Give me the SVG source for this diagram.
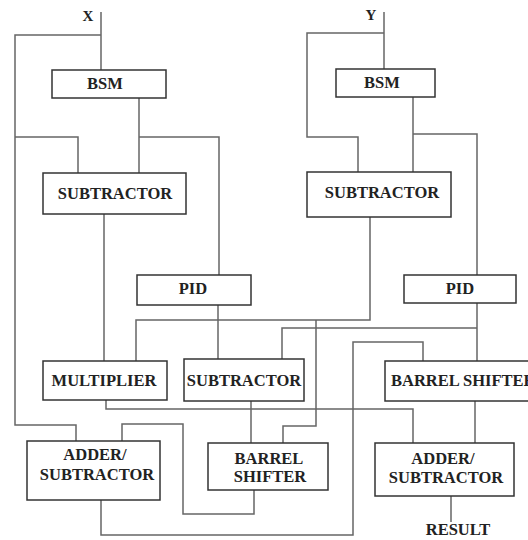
<svg xmlns="http://www.w3.org/2000/svg" width="528" height="540" viewBox="0 0 528 540">
<style>
.box{fill:#fff;stroke:#333;stroke-width:1.5}
.w{fill:none;stroke:#666;stroke-width:1.5}
.t{font-family:"Liberation Serif","Times New Roman",serif;font-weight:bold;font-size:16.5px;fill:#222;text-anchor:middle}
</style>
<rect width="528" height="540" fill="#fff"/>
<g id="connectors">
<polyline class="w" points="101,12 101,70"/>
<polyline class="w" points="101,35 15,35 15,425 76,425 76,441"/>
<polyline class="w" points="139,98 139,173"/>
<polyline class="w" points="139,137 219,137 219,275"/>
<polyline class="w" points="15,137 78,137 78,173"/>
<polyline class="w" points="104,214 104,361"/>
<polyline class="w" points="384,12 384,69"/>
<polyline class="w" points="384,33 307,33 307,137 358,137 358,172"/>
<polyline class="w" points="413,97 413,172"/>
<polyline class="w" points="413,134 477,134 477,275"/>
<polyline class="w" points="370,217 370,320 136,320 136,361"/>
<polyline class="w" points="316,320 316,426 283,426 283,443"/>
<polyline class="w" points="218,305 218,359"/>
<polyline class="w" points="477,303 477,361"/>
<polyline class="w" points="477,328 282,328 282,359"/>
<polyline class="w" points="106,400 106,409 413,409 413,443"/>
<polyline class="w" points="251,401 251,443"/>
<polyline class="w" points="475,401 475,443"/>
<polyline class="w" points="254,490 254,514 183,514 183,424 122,424 122,441"/>
<polyline class="w" points="101,500 101,535 353,535 353,342 423,342 423,361"/>
<polyline class="w" points="451,496 451,522"/>
</g>
<text class="t" x="88" y="21" style="font-size:15px">X</text>
<text class="t" x="371" y="20" style="font-size:15px">Y</text>
<g id="bsm1"><rect class="box" x="52" y="70" width="114" height="28"/><text class="t" x="105" y="89">BSM</text></g>
<g id="bsm2"><rect class="box" x="336" y="69" width="99" height="28"/><text class="t" x="382" y="88">BSM</text></g>
<g id="sub1"><rect class="box" x="43" y="173" width="143" height="41"/><text class="t" x="115" y="199">SUBTRACTOR</text></g>
<g id="sub2"><rect class="box" x="307" y="172" width="144" height="45"/><text class="t" x="382" y="198">SUBTRACTOR</text></g>
<g id="pid1"><rect class="box" x="137" y="275" width="114" height="30"/><text class="t" x="193" y="294">PID</text></g>
<g id="pid2"><rect class="box" x="404" y="275" width="112" height="28"/><text class="t" x="460" y="294">PID</text></g>
<g id="multiplier"><rect class="box" x="43" y="361" width="124" height="39"/><text class="t" x="104" y="386">MULTIPLIER</text></g>
<g id="sub3"><rect class="box" x="184" y="359" width="120" height="42"/><text class="t" x="244" y="386">SUBTRACTOR</text></g>
<g id="barrel1"><rect class="box" x="385" y="361" width="160" height="40"/><text class="t" x="391" y="386" style="text-anchor:start">BARREL SHIFTER</text></g>
<g id="adder1"><rect class="box" x="27" y="441" width="133" height="59"/><text class="t" x="95" y="460">ADDER/</text><text class="t" x="97" y="480">SUBTRACTOR</text></g>
<g id="barrel2"><rect class="box" x="208" y="443" width="120" height="47"/><text class="t" x="269" y="464">BARREL</text><text class="t" x="270" y="482">SHIFTER</text></g>
<g id="adder2"><rect class="box" x="375" y="443" width="139" height="53"/><text class="t" x="443" y="464">ADDER/</text><text class="t" x="446" y="483">SUBTRACTOR</text></g>
<text class="t" x="458" y="535">RESULT</text>
</svg>
